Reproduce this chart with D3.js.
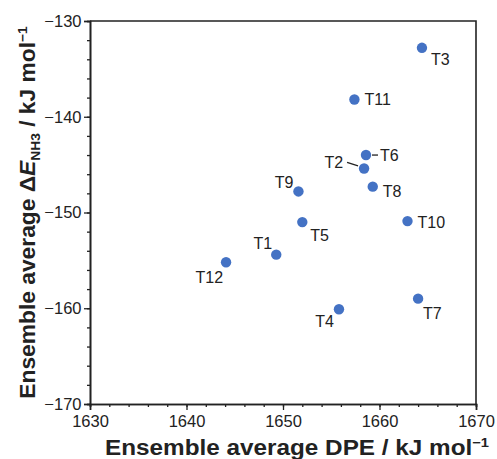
<!DOCTYPE html>
<head>
    <script src="https://cdn.jsdelivr.net/npm/d3@7"></script>
    <style>
        body { margin: 0; background: #fff; }
        text { font-family: "Liberation Sans", Arial, sans-serif; fill: #222; }
    </style>
</head>
<body>
    <div id="container"></div>
    <script>
    // points
    var names = ["T1", "T2", "T3", "T4", "T5", "T6", "T7", "T8", "T9", "T10", "T11", "T12"];
    var dpe = [1649.3, 1658.4, 1664.4, 1655.8, 1652.0, 1658.6, 1664.0, 1659.3, 1651.6, 1662.9, 1657.4, 1644.1];
    var dE = [-154.4, -145.4, -132.8, -160.1, -151.0, -144.0, -159.0, -147.3, -147.8, -150.9, -138.2, -155.2];

    var xTicks = [1630, 1640, 1650, 1660, 1670];
    var yTicks = [-130, -140, -150, -160, -170];

    // where each label sits relative to its point
    var labelPos = {
        T1: [-4, -11, "end"], T2: [-21, -6, "end"], T3: [9, 11, "start"],
        T4: [-5, 12, "end"], T5: [8, 13, "start"], T6: [14, 0, "start"],
        T7: [5, 15, "start"], T8: [10, 5, "start"], T9: [-5, -9, "end"],
        T10: [10, 1, "start"], T11: [10, 0, "start"], T12: [-3, 15, "end"]
    };
    var leaders = { T2: [-17, -6, -6, -2.5], T6: [6, 0, 12, 0] };

    var W = 497, H = 459;
    var m = { left: 90, right: 21, top: 21, bottom: 55 };

    var svg = d3.select("#container").append("svg")
        .attr("width", W).attr("height", H);

    var x = d3.scaleLinear().domain([1630, 1670]).range([m.left, W - m.right]);
    var y = d3.scaleLinear().domain([-170, -130]).range([H - m.bottom, m.top]);

    function minor(lo, hi) { return d3.range(lo, hi + 0.1, 2); }

    // minor ticks
    svg.append("g").attr("transform", "translate(0," + y(-170) + ")")
        .call(d3.axisBottom(x).tickValues(minor(1630, 1670)).tickSize(3).tickFormat(""));
    svg.append("g").attr("transform", "translate(" + x(1630) + ",0)")
        .call(d3.axisLeft(y).tickValues(minor(-170, -130)).tickSize(3).tickFormat(""));

    var gx = svg.append("g").attr("transform", "translate(0," + y(-170) + ")")
        .call(d3.axisBottom(x).tickValues(xTicks).tickSize(6).tickPadding(5).tickFormat(d3.format("d")));
    var gy = svg.append("g").attr("transform", "translate(" + x(1630) + ",0)")
        .call(d3.axisLeft(y).tickValues(yTicks).tickSize(6).tickPadding(2.5).tickFormat(function (d) { return "\u2212" + Math.abs(d); }));

    svg.selectAll(".domain").attr("stroke", "#222").attr("stroke-width", 1.6);
    svg.selectAll(".tick line").attr("stroke", "#222").attr("stroke-width", 1.3);
    svg.selectAll(".tick text").style("font-size", "16.5px").attr("fill", "#222");

    // top and right frame
    svg.append("path")
        .attr("d", "M" + x(1630) + "," + y(-130) + "H" + x(1670) + "V" + y(-170))
        .attr("fill", "none").attr("stroke", "#222").attr("stroke-width", 1.6);

    var pts = names.map(function (n, i) { return { name: n, x: dpe[i], y: dE[i] }; });

    svg.selectAll("line.leader").data(pts.filter(function (d) { return leaders[d.name]; }))
        .enter().append("line").attr("class", "leader")
        .attr("x1", function (d) { return x(d.x) + leaders[d.name][0]; })
        .attr("y1", function (d) { return y(d.y) + leaders[d.name][1]; })
        .attr("x2", function (d) { return x(d.x) + leaders[d.name][2]; })
        .attr("y2", function (d) { return y(d.y) + leaders[d.name][3]; })
        .attr("stroke", "#222").attr("stroke-width", 1.3);

    svg.selectAll("circle").data(pts).enter().append("circle")
        .attr("cx", function (d) { return x(d.x); })
        .attr("cy", function (d) { return y(d.y); })
        .attr("r", 5.2)
        .attr("fill", "#4472C4");

    svg.selectAll("text.lbl").data(pts).enter().append("text")
        .attr("class", "lbl")
        .attr("x", function (d) { return x(d.x) + labelPos[d.name][0]; })
        .attr("y", function (d) { return y(d.y) + labelPos[d.name][1]; })
        .attr("dy", "0.36em")
        .attr("text-anchor", function (d) { return labelPos[d.name][2]; })
        .style("font-size", "16px")
        .text(function (d) { return d.name; });

    // axis titles (the original font runs a little wide)
    var xt = svg.append("text")
        .attr("transform", "translate(" + ((x(1630) + x(1670)) / 2 + 14) + ",455) scale(1.13,1)")
        .attr("text-anchor", "middle")
        .style("font-size", "21.5px").style("font-weight", "bold");
    xt.append("tspan").text("Ensemble average DPE / kJ mol");
    xt.append("tspan").attr("dy", -8).style("font-size", "13px").text("\u22121");

    var yt = svg.append("text")
        .attr("transform", "translate(35," + ((y(-130) + y(-170)) / 2) + ") rotate(-90) scale(1.06,1)")
        .attr("text-anchor", "middle")
        .style("font-size", "21.5px").style("font-weight", "bold");
    yt.append("tspan").text("Ensemble average \u0394");
    yt.append("tspan").style("font-style", "italic").text("E");
    yt.append("tspan").attr("dy", 5).style("font-size", "13px").text("NH3");
    yt.append("tspan").attr("dy", -5).text(" / kJ mol");
    yt.append("tspan").attr("dy", -8).style("font-size", "13px").text("\u22121");
    </script>
</body>
